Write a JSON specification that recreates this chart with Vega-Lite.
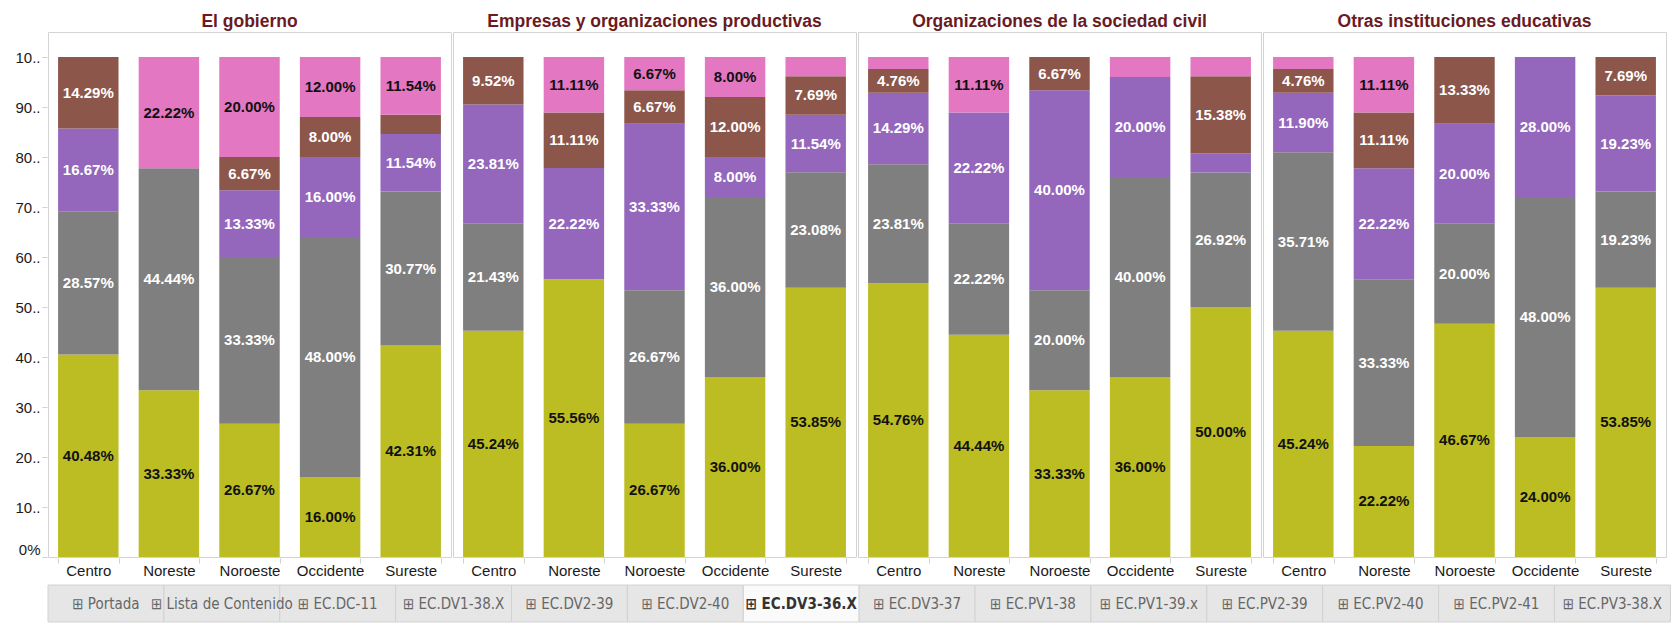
{
  "$schema": "https://vega.github.io/schema/vega-lite/v6.json",
  "background": "white",
  "padding": {"top": 12, "left": 0, "right": 0, "bottom": 0},
  "spacing": 6,
  "config": {
    "view": {"stroke": "#d4d4d4"},
    "font": "Liberation Sans",
    "axis": {"labelFont": "Liberation Sans", "labelFontSize": 15, "labelColor": "#1a1a1a", "tickColor": "#d0d0d0", "domain": false, "grid": false}
  },
  "vconcat": [
    {
      "data": {"values": [
        {"inst": "El gobierno", "region": "Centro", "grupo": "Grupo 1", "v": 0.4048},
        {"inst": "El gobierno", "region": "Centro", "grupo": "Grupo 2", "v": 0.2857},
        {"inst": "El gobierno", "region": "Centro", "grupo": "Grupo 3", "v": 0.1667},
        {"inst": "El gobierno", "region": "Centro", "grupo": "Grupo 4", "v": 0.1429},
        {"inst": "El gobierno", "region": "Noreste", "grupo": "Grupo 1", "v": 0.3333},
        {"inst": "El gobierno", "region": "Noreste", "grupo": "Grupo 2", "v": 0.4444},
        {"inst": "El gobierno", "region": "Noreste", "grupo": "Grupo 5", "v": 0.2222},
        {"inst": "El gobierno", "region": "Noroeste", "grupo": "Grupo 1", "v": 0.2667},
        {"inst": "El gobierno", "region": "Noroeste", "grupo": "Grupo 2", "v": 0.3333},
        {"inst": "El gobierno", "region": "Noroeste", "grupo": "Grupo 3", "v": 0.1333},
        {"inst": "El gobierno", "region": "Noroeste", "grupo": "Grupo 4", "v": 0.0667},
        {"inst": "El gobierno", "region": "Noroeste", "grupo": "Grupo 5", "v": 0.2000},
        {"inst": "El gobierno", "region": "Occidente", "grupo": "Grupo 1", "v": 0.16},
        {"inst": "El gobierno", "region": "Occidente", "grupo": "Grupo 2", "v": 0.48},
        {"inst": "El gobierno", "region": "Occidente", "grupo": "Grupo 3", "v": 0.16},
        {"inst": "El gobierno", "region": "Occidente", "grupo": "Grupo 4", "v": 0.08},
        {"inst": "El gobierno", "region": "Occidente", "grupo": "Grupo 5", "v": 0.12},
        {"inst": "El gobierno", "region": "Sureste", "grupo": "Grupo 1", "v": 0.4231},
        {"inst": "El gobierno", "region": "Sureste", "grupo": "Grupo 2", "v": 0.3077},
        {"inst": "El gobierno", "region": "Sureste", "grupo": "Grupo 3", "v": 0.1154},
        {"inst": "El gobierno", "region": "Sureste", "grupo": "Grupo 4", "v": 0.0385},
        {"inst": "El gobierno", "region": "Sureste", "grupo": "Grupo 5", "v": 0.1154},

        {"inst": "Empresas y organizaciones productivas", "region": "Centro", "grupo": "Grupo 1", "v": 0.4524},
        {"inst": "Empresas y organizaciones productivas", "region": "Centro", "grupo": "Grupo 2", "v": 0.2143},
        {"inst": "Empresas y organizaciones productivas", "region": "Centro", "grupo": "Grupo 3", "v": 0.2381},
        {"inst": "Empresas y organizaciones productivas", "region": "Centro", "grupo": "Grupo 4", "v": 0.0952},
        {"inst": "Empresas y organizaciones productivas", "region": "Noreste", "grupo": "Grupo 1", "v": 0.5556},
        {"inst": "Empresas y organizaciones productivas", "region": "Noreste", "grupo": "Grupo 3", "v": 0.2222},
        {"inst": "Empresas y organizaciones productivas", "region": "Noreste", "grupo": "Grupo 4", "v": 0.1111},
        {"inst": "Empresas y organizaciones productivas", "region": "Noreste", "grupo": "Grupo 5", "v": 0.1111},
        {"inst": "Empresas y organizaciones productivas", "region": "Noroeste", "grupo": "Grupo 1", "v": 0.2667},
        {"inst": "Empresas y organizaciones productivas", "region": "Noroeste", "grupo": "Grupo 2", "v": 0.2667},
        {"inst": "Empresas y organizaciones productivas", "region": "Noroeste", "grupo": "Grupo 3", "v": 0.3333},
        {"inst": "Empresas y organizaciones productivas", "region": "Noroeste", "grupo": "Grupo 4", "v": 0.0667},
        {"inst": "Empresas y organizaciones productivas", "region": "Noroeste", "grupo": "Grupo 5", "v": 0.0667},
        {"inst": "Empresas y organizaciones productivas", "region": "Occidente", "grupo": "Grupo 1", "v": 0.36},
        {"inst": "Empresas y organizaciones productivas", "region": "Occidente", "grupo": "Grupo 2", "v": 0.36},
        {"inst": "Empresas y organizaciones productivas", "region": "Occidente", "grupo": "Grupo 3", "v": 0.08},
        {"inst": "Empresas y organizaciones productivas", "region": "Occidente", "grupo": "Grupo 4", "v": 0.12},
        {"inst": "Empresas y organizaciones productivas", "region": "Occidente", "grupo": "Grupo 5", "v": 0.08},
        {"inst": "Empresas y organizaciones productivas", "region": "Sureste", "grupo": "Grupo 1", "v": 0.5385},
        {"inst": "Empresas y organizaciones productivas", "region": "Sureste", "grupo": "Grupo 2", "v": 0.2308},
        {"inst": "Empresas y organizaciones productivas", "region": "Sureste", "grupo": "Grupo 3", "v": 0.1154},
        {"inst": "Empresas y organizaciones productivas", "region": "Sureste", "grupo": "Grupo 4", "v": 0.0769},
        {"inst": "Empresas y organizaciones productivas", "region": "Sureste", "grupo": "Grupo 5", "v": 0.0385},

        {"inst": "Organizaciones de la sociedad civil", "region": "Centro", "grupo": "Grupo 1", "v": 0.5476},
        {"inst": "Organizaciones de la sociedad civil", "region": "Centro", "grupo": "Grupo 2", "v": 0.2381},
        {"inst": "Organizaciones de la sociedad civil", "region": "Centro", "grupo": "Grupo 3", "v": 0.1429},
        {"inst": "Organizaciones de la sociedad civil", "region": "Centro", "grupo": "Grupo 4", "v": 0.0476},
        {"inst": "Organizaciones de la sociedad civil", "region": "Centro", "grupo": "Grupo 5", "v": 0.0238},
        {"inst": "Organizaciones de la sociedad civil", "region": "Noreste", "grupo": "Grupo 1", "v": 0.4444},
        {"inst": "Organizaciones de la sociedad civil", "region": "Noreste", "grupo": "Grupo 2", "v": 0.2222},
        {"inst": "Organizaciones de la sociedad civil", "region": "Noreste", "grupo": "Grupo 3", "v": 0.2222},
        {"inst": "Organizaciones de la sociedad civil", "region": "Noreste", "grupo": "Grupo 5", "v": 0.1111},
        {"inst": "Organizaciones de la sociedad civil", "region": "Noroeste", "grupo": "Grupo 1", "v": 0.3333},
        {"inst": "Organizaciones de la sociedad civil", "region": "Noroeste", "grupo": "Grupo 2", "v": 0.20},
        {"inst": "Organizaciones de la sociedad civil", "region": "Noroeste", "grupo": "Grupo 3", "v": 0.40},
        {"inst": "Organizaciones de la sociedad civil", "region": "Noroeste", "grupo": "Grupo 4", "v": 0.0667},
        {"inst": "Organizaciones de la sociedad civil", "region": "Occidente", "grupo": "Grupo 1", "v": 0.36},
        {"inst": "Organizaciones de la sociedad civil", "region": "Occidente", "grupo": "Grupo 2", "v": 0.40},
        {"inst": "Organizaciones de la sociedad civil", "region": "Occidente", "grupo": "Grupo 3", "v": 0.20},
        {"inst": "Organizaciones de la sociedad civil", "region": "Occidente", "grupo": "Grupo 5", "v": 0.04},
        {"inst": "Organizaciones de la sociedad civil", "region": "Sureste", "grupo": "Grupo 1", "v": 0.50},
        {"inst": "Organizaciones de la sociedad civil", "region": "Sureste", "grupo": "Grupo 2", "v": 0.2692},
        {"inst": "Organizaciones de la sociedad civil", "region": "Sureste", "grupo": "Grupo 3", "v": 0.0385},
        {"inst": "Organizaciones de la sociedad civil", "region": "Sureste", "grupo": "Grupo 4", "v": 0.1538},
        {"inst": "Organizaciones de la sociedad civil", "region": "Sureste", "grupo": "Grupo 5", "v": 0.0385},

        {"inst": "Otras instituciones educativas", "region": "Centro", "grupo": "Grupo 1", "v": 0.4524},
        {"inst": "Otras instituciones educativas", "region": "Centro", "grupo": "Grupo 2", "v": 0.3571},
        {"inst": "Otras instituciones educativas", "region": "Centro", "grupo": "Grupo 3", "v": 0.1190},
        {"inst": "Otras instituciones educativas", "region": "Centro", "grupo": "Grupo 4", "v": 0.0476},
        {"inst": "Otras instituciones educativas", "region": "Centro", "grupo": "Grupo 5", "v": 0.0238},
        {"inst": "Otras instituciones educativas", "region": "Noreste", "grupo": "Grupo 1", "v": 0.2222},
        {"inst": "Otras instituciones educativas", "region": "Noreste", "grupo": "Grupo 2", "v": 0.3333},
        {"inst": "Otras instituciones educativas", "region": "Noreste", "grupo": "Grupo 3", "v": 0.2222},
        {"inst": "Otras instituciones educativas", "region": "Noreste", "grupo": "Grupo 4", "v": 0.1111},
        {"inst": "Otras instituciones educativas", "region": "Noreste", "grupo": "Grupo 5", "v": 0.1111},
        {"inst": "Otras instituciones educativas", "region": "Noroeste", "grupo": "Grupo 1", "v": 0.4667},
        {"inst": "Otras instituciones educativas", "region": "Noroeste", "grupo": "Grupo 2", "v": 0.20},
        {"inst": "Otras instituciones educativas", "region": "Noroeste", "grupo": "Grupo 3", "v": 0.20},
        {"inst": "Otras instituciones educativas", "region": "Noroeste", "grupo": "Grupo 4", "v": 0.1333},
        {"inst": "Otras instituciones educativas", "region": "Occidente", "grupo": "Grupo 1", "v": 0.24},
        {"inst": "Otras instituciones educativas", "region": "Occidente", "grupo": "Grupo 2", "v": 0.48},
        {"inst": "Otras instituciones educativas", "region": "Occidente", "grupo": "Grupo 3", "v": 0.28},
        {"inst": "Otras instituciones educativas", "region": "Sureste", "grupo": "Grupo 1", "v": 0.5385},
        {"inst": "Otras instituciones educativas", "region": "Sureste", "grupo": "Grupo 2", "v": 0.1923},
        {"inst": "Otras instituciones educativas", "region": "Sureste", "grupo": "Grupo 3", "v": 0.1923},
        {"inst": "Otras instituciones educativas", "region": "Sureste", "grupo": "Grupo 4", "v": 0.0769}
      ]},
      "transform": [
        {"stack": "v", "groupby": ["inst", "region"], "sort": [{"field": "grupo", "order": "ascending"}], "as": ["s0", "s1"]}
      ],
      "facet": {
        "column": {
          "field": "inst", "type": "nominal",
          "sort": ["El gobierno", "Empresas y organizaciones productivas", "Organizaciones de la sociedad civil", "Otras instituciones educativas"],
          "header": {"title": null, "labelFont": "Liberation Sans", "labelFontSize": 17.5, "labelFontWeight": "bold", "labelColor": "#6b1a1f", "labelPadding": 1}
        }
      },
      "spacing": 0,
      "spec": {
        "width": 403,
        "height": 525,
        "encoding": {
          "x": {
            "field": "region", "type": "nominal",
            "scale": {"paddingInner": 0.25, "paddingOuter": 0.125},
            "axis": {"title": null, "labelAngle": 0, "tickBand": "extent", "tickSize": 5, "labelPadding": 0, "labelColor": "#1a1a1a"}
          }
        },
        "layer": [
          {
            "mark": {"type": "bar"},
            "encoding": {
              "y": {
                "field": "s0", "type": "quantitative",
                "scale": {"domain": [0, 1.05], "nice": false, "zero": true},
                "axis": {"title": null, "values": [0, 0.1, 0.2, 0.3, 0.4, 0.5, 0.6, 0.7, 0.8, 0.9, 1.0], "tickSize": 5, "labelPadding": 2, "minExtent": 47, "labelFlush": true,
                  "labelExpr": "datum.value == 0 ? '0%' : substring(toString(round(datum.value * 100)), 0, 2) + '..'"}
              },
              "y2": {"field": "s1"},
              "color": {
                "field": "grupo", "type": "nominal", "legend": null,
                "scale": {"domain": ["Grupo 1", "Grupo 2", "Grupo 3", "Grupo 4", "Grupo 5"], "range": ["#bcbd22", "#7f7f7f", "#9467bd", "#8c564b", "#e377c2"]}
              }
            }
          },
          {
            "transform": [
              {"filter": "datum.v >= 0.045"},
              {"fold": ["s0", "s1"], "as": ["extremo", "pos"]},
              {"aggregate": [{"op": "mean", "field": "pos", "as": "medio"}], "groupby": ["inst", "region", "grupo", "v"]}
            ],
            "mark": {"type": "text", "font": "Liberation Sans", "fontSize": 15, "fontWeight": "bold"},
            "encoding": {
              "y": {"field": "medio", "type": "quantitative"},
              "text": {"field": "v", "type": "quantitative", "format": ".2%"},
              "color": {"condition": {"test": "datum.grupo == 'Grupo 1' || datum.grupo == 'Grupo 5'", "value": "#111111"}, "value": "#ffffff"}
            }
          }
        ]
      }
    },
    {
      "data": {"values": [
        {"tab": "⊞ Portada"},
        {"tab": "⊞ Lista de Contenido"},
        {"tab": "⊞ EC.DC-11"},
        {"tab": "⊞ EC.DV1-38.X"},
        {"tab": "⊞ EC.DV2-39"},
        {"tab": "⊞ EC.DV2-40"},
        {"tab": "⊞ EC.DV3-36.X"},
        {"tab": "⊞ EC.DV3-37"},
        {"tab": "⊞ EC.PV1-38"},
        {"tab": "⊞ EC.PV1-39.x"},
        {"tab": "⊞ EC.PV2-39"},
        {"tab": "⊞ EC.PV2-40"},
        {"tab": "⊞ EC.PV2-41"},
        {"tab": "⊞ EC.PV3-38.X"}
      ]},
      "width": 1671,
      "height": 37,
      "view": {"stroke": null, "fill": "#e6e6e6"},
      "encoding": {
        "x": {"field": "tab", "type": "nominal", "sort": null, "axis": null, "scale": {"paddingInner": 0, "paddingOuter": 0.21, "align": 0}}
      },
      "layer": [
        {
          "mark": {"type": "rect", "stroke": "#d2d2d2", "strokeWidth": 1},
          "encoding": {
            "fill": {"condition": {"test": "datum.tab == '⊞ EC.DV3-36.X'", "value": "#fafafa"}, "value": "#e6e6e6"}
          }
        },
        {
          "transform": [{"filter": "datum.tab != '⊞ EC.DV3-36.X'"}],
          "mark": {"type": "text", "font": "DejaVu Sans Condensed, Liberation Sans", "fontSize": 15, "color": "#666666"},
          "encoding": {"text": {"field": "tab"}}
        },
        {
          "transform": [{"filter": "datum.tab == '⊞ EC.DV3-36.X'"}],
          "mark": {"type": "text", "font": "DejaVu Sans Condensed, Liberation Sans", "fontSize": 15, "fontWeight": "bold", "color": "#333333"},
          "encoding": {"text": {"field": "tab"}}
        }
      ]
    }
  ]
}
